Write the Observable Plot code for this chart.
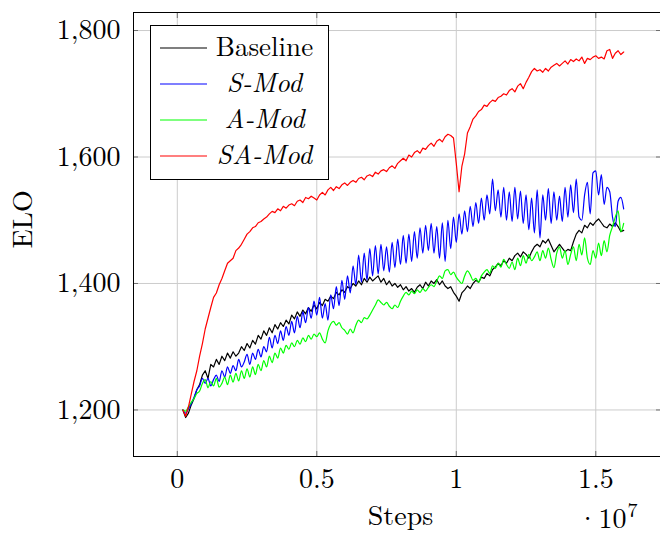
<!DOCTYPE html>
<html><head><meta charset="utf-8">
<script src="https://cdn.jsdelivr.net/npm/d3@7"></script>
<script src="https://cdn.jsdelivr.net/npm/@observablehq/plot@0.6"></script>
<style>
body{margin:0;background:#fff;}
#wrap{position:relative;width:660px;height:534px;}
#legend{position:absolute;left:150px;top:25px;width:177px;height:153px;border:1px solid #000;background:#fff;font-family:"Latin Modern Roman","Liberation Serif",serif;font-size:27px;color:#000;}
.row{position:absolute;left:0;height:36px;width:100%;}
.row svg{position:absolute;left:9px;top:12px;}
.row .lb{position:absolute;left:62px;width:103px;text-align:center;top:2px;height:26px;line-height:26px;white-space:nowrap;}
</style></head>
<body><div id="wrap"><div id="legend"></div></div>
<script>
// Series names (legend order)
const seriesNames = ["Baseline", "S-Mod", "A-Mod", "SA-Mod"];
// Steps (in units of 1e7): first logged step and logging interval
const stepStart = 0.02;
const stepSize = 0.01;
// Tick values
const xTicks = [0, 0.5, 1, 1.5];
const yTicks = [1200, 1400, 1600, 1800];

const baseline = [
  1200, 1188, 1195, 1208, 1218, 1232, 1240, 1255,
  1262, 1250, 1272, 1268, 1280, 1272, 1285, 1278, 1290, 1282,
  1292, 1285, 1290, 1300, 1294, 1305, 1298, 1310, 1304, 1318,
  1312, 1325, 1318, 1330, 1322, 1335, 1328, 1338, 1332, 1342,
  1336, 1350, 1344, 1355, 1348, 1358, 1352, 1362, 1356, 1366,
  1360, 1370, 1365, 1375, 1372, 1380, 1376, 1386, 1382, 1390,
  1386, 1395, 1392, 1400, 1396, 1404, 1398, 1408, 1402, 1410,
  1404, 1408, 1412, 1402, 1408, 1398, 1404, 1396, 1400, 1394,
  1398, 1390, 1395, 1388, 1392, 1386, 1394, 1398, 1392, 1402,
  1396, 1404, 1400, 1406, 1398, 1404, 1396, 1392, 1395, 1386,
  1380, 1372, 1385, 1390, 1396, 1392, 1400, 1405, 1402, 1410,
  1408, 1416, 1412, 1422, 1426, 1432, 1428, 1436, 1432, 1440,
  1436, 1444, 1448, 1442, 1450, 1446, 1440, 1450, 1458, 1462,
  1458, 1468, 1464, 1470, 1460, 1450, 1456, 1462, 1456, 1450,
  1454, 1452, 1466, 1478, 1484, 1480, 1492, 1488, 1496, 1492,
  1498, 1502, 1496, 1490, 1488, 1494, 1490, 1496, 1490, 1482,
  1484
];
const sMod = [
  1200, 1195, 1202, 1210, 1220, 1232, 1238, 1250,
  1242, 1250, 1238, 1248, 1255, 1245, 1262, 1252, 1268, 1258,
  1270, 1262, 1280, 1268, 1276, 1288, 1272, 1290, 1280, 1296,
  1284, 1300, 1292, 1315, 1298, 1318, 1305, 1325, 1310, 1332,
  1318, 1340, 1322, 1348, 1330, 1355, 1338, 1362, 1345, 1372,
  1350, 1378, 1345, 1368, 1342, 1382, 1360, 1395, 1365, 1405,
  1375, 1412, 1385, 1428, 1398, 1445, 1402, 1448, 1405, 1455,
  1412, 1460, 1415, 1462, 1420, 1458, 1418, 1465, 1425, 1470,
  1430, 1476, 1432, 1478, 1435, 1482, 1440, 1488, 1448, 1492,
  1452, 1495, 1448, 1490, 1440, 1496, 1435, 1500, 1455, 1505,
  1465, 1510, 1478, 1515, 1482, 1522, 1490, 1528, 1495, 1535,
  1500, 1540, 1510, 1565, 1515, 1548, 1505, 1552, 1500, 1545,
  1498, 1552, 1502, 1546, 1495, 1540, 1485, 1535, 1480, 1548,
  1472, 1540, 1500, 1550, 1495, 1545, 1500, 1538, 1498, 1552,
  1505, 1556, 1512, 1565, 1505, 1500, 1540, 1560, 1510, 1575,
  1578, 1540, 1572, 1525, 1552, 1545, 1505, 1490, 1530, 1536,
  1518
];
const aMod = [
  1200, 1198, 1205, 1212, 1218, 1226, 1230, 1242,
  1248, 1235, 1245, 1238, 1250, 1236, 1242, 1252, 1240, 1255,
  1244, 1258, 1246, 1262, 1250, 1265, 1252, 1268, 1256, 1272,
  1262, 1278, 1268, 1285, 1275, 1290, 1282, 1298, 1290, 1302,
  1296, 1306, 1300, 1310, 1304, 1314, 1308, 1318, 1312, 1320,
  1316, 1322, 1312, 1306, 1325, 1336, 1340, 1334, 1338, 1330,
  1326, 1320, 1328, 1322, 1334, 1342, 1338, 1346, 1344, 1350,
  1358, 1366, 1374, 1370, 1366, 1370, 1364, 1360, 1366, 1362,
  1372, 1380, 1386, 1382, 1388, 1384, 1390, 1386, 1392, 1388,
  1394, 1398, 1395, 1404, 1412, 1408, 1420, 1422, 1414, 1418,
  1410, 1404, 1400, 1412, 1420, 1414, 1405, 1408, 1402, 1412,
  1418, 1422, 1416, 1428, 1424, 1432, 1426, 1438, 1430, 1424,
  1434, 1422, 1440, 1428, 1444, 1432, 1446, 1436, 1442, 1450,
  1436, 1452, 1440, 1456, 1438, 1425, 1448, 1458, 1440, 1452,
  1430, 1446, 1458, 1436, 1462, 1445, 1472, 1440, 1430, 1452,
  1440, 1464, 1444, 1468, 1450, 1476, 1490, 1505, 1515, 1482,
  1495
];
const saMod = [
  1200, 1190, 1205, 1225, 1245, 1262, 1285, 1305,
  1328, 1345, 1362, 1378, 1385, 1398, 1408, 1420, 1432, 1436,
  1440, 1452, 1456, 1462, 1470, 1478, 1482, 1488, 1490, 1496,
  1498, 1502, 1505, 1510, 1514, 1512, 1518, 1515, 1522, 1519,
  1524, 1526, 1523, 1530, 1532, 1528, 1536, 1534, 1538, 1535,
  1532, 1540, 1544, 1540, 1548, 1552, 1547, 1553, 1550, 1556,
  1559, 1555, 1560, 1563, 1560, 1566, 1568, 1564, 1570, 1572,
  1569, 1576, 1573, 1578, 1580, 1577, 1583, 1586, 1582, 1590,
  1594, 1598, 1594, 1603, 1600, 1607, 1610, 1606, 1614, 1612,
  1618, 1622, 1617, 1625, 1628, 1624, 1632, 1636, 1634, 1630,
  1590, 1545, 1585, 1605, 1638, 1648, 1660, 1665, 1672, 1675,
  1682, 1680, 1686, 1690, 1688, 1694, 1696, 1700, 1698, 1705,
  1708, 1703, 1712, 1716, 1708, 1718, 1726, 1735, 1740, 1736,
  1738, 1734, 1740, 1736, 1742, 1745, 1748, 1744, 1748, 1752,
  1747, 1754, 1751, 1755, 1752, 1758, 1748, 1756, 1754, 1758,
  1760, 1756, 1758, 1755, 1768, 1770, 1756, 1764, 1768, 1762,
  1766
];

const seriesValues = [baseline, sMod, aMod, saMod];
const seriesStyle = {
  "Baseline": {color: "#000000", italic: false, curve: "linear"},
  "S-Mod": {color: "#0000ff", italic: true, curve: "monotone-x"},
  "A-Mod": {color: "#00ff00", italic: true, curve: "monotone-x"},
  "SA-Mod": {color: "#ff0000", italic: true, curve: "linear"}
};
const serifStack = "'Latin Modern Roman', 'Liberation Serif', serif";

const rows = [];
seriesNames.forEach((name, k) => {
  seriesValues[k].forEach((v, i) => rows.push({series: name, step: +(stepStart + i * stepSize).toFixed(4), elo: v}));
});

const lineMarks = seriesNames.map(name =>
  Plot.line(rows.filter(d => d.series === name), {x: "step", y: "elo", stroke: seriesStyle[name].color, strokeWidth: 1.2, curve: seriesStyle[name].curve})
);

const chart = Plot.plot({
  width: 660, height: 534,
  marginLeft: 133, marginRight: 0, marginTop: 12, marginBottom: 78,
  style: {fontFamily: serifStack, fontSize: "28px", background: "#fff", color: "#000"},
  x: {domain: [-0.157, 1.732]},
  y: {domain: [1126.4, 1828.5]},
  marks: [
    Plot.gridX(xTicks, {stroke: "#cccccc", strokeOpacity: 1, strokeWidth: 1}),
    Plot.gridY(yTicks, {stroke: "#cccccc", strokeOpacity: 1, strokeWidth: 1}),
    Plot.axisX(xTicks, {anchor: "bottom", tickSize: -5, tickPadding: 17, label: null, stroke: "#6e6e6e", tickFormat: d => String(d)}),
    Plot.axisX(xTicks, {anchor: "top", tickSize: -5, label: null, stroke: "#6e6e6e", tickFormat: () => ""}),
    Plot.axisY(yTicks, {anchor: "left", tickSize: -5, tickPadding: 18, label: null, stroke: "#6e6e6e", tickFormat: d3.format(",")}),
    Plot.axisY(yTicks, {anchor: "right", tickSize: -5, label: null, stroke: "#6e6e6e", tickFormat: () => ""}),
    ...lineMarks,
    Plot.frame({stroke: "#000", strokeWidth: 1}),
    Plot.text(["ELO"], {frameAnchor: "left", dx: -110, dy: 14, rotate: -90, fontSize: 28}),
    Plot.text(["Steps"], {frameAnchor: "bottom", dx: 3.5, dy: 68, fontSize: 28}),
    Plot.text(["·10"], {frameAnchor: "bottom-right", textAnchor: "end", dx: -34, dy: 71, fontSize: 28}),
    Plot.text(["7"], {frameAnchor: "bottom-right", textAnchor: "start", dx: -33, dy: 60, fontSize: 20})
  ]
});

const wrap = document.getElementById("wrap");
wrap.insertBefore(chart, wrap.firstChild);

const svgNS = "http://www.w3.org/2000/svg";
const legend = document.getElementById("legend");
seriesNames.forEach((name, i) => {
  const row = document.createElement("div");
  row.className = "row";
  row.style.top = (4 + i * 36) + "px";
  const sw = document.createElementNS(svgNS, "svg");
  sw.setAttribute("width", "47");
  sw.setAttribute("height", "12");
  const ln = document.createElementNS(svgNS, "line");
  ln.setAttribute("x1", "0"); ln.setAttribute("x2", "47");
  ln.setAttribute("y1", "6"); ln.setAttribute("y2", "6");
  ln.setAttribute("stroke", seriesStyle[name].color);
  ln.setAttribute("stroke-width", "1.2");
  sw.appendChild(ln);
  const lb = document.createElement("div");
  lb.className = "lb";
  lb.textContent = name;
  if (seriesStyle[name].italic) lb.style.fontStyle = "italic";
  row.appendChild(sw);
  row.appendChild(lb);
  legend.appendChild(row);
});
</script>
</body></html>
